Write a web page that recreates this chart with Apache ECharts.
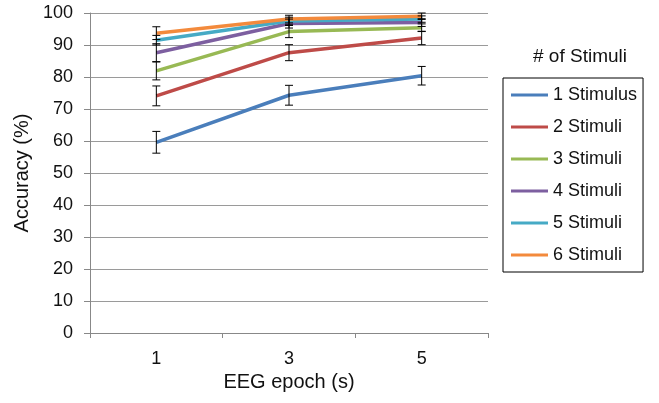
<!DOCTYPE html>
<html>
<head>
<meta charset="utf-8">
<script src="https://cdn.jsdelivr.net/npm/echarts@6/dist/echarts.min.js"></script>
<style>html,body{margin:0;padding:0;background:#fff}#c{width:659px;height:403px}</style>
</head>
<body>
<div id="c"></div>
<script>
var categories = ['1', '3', '5'];
var seriesNames = ['1 Stimulus', '2 Stimuli', '3 Stimuli', '4 Stimuli', '5 Stimuli', '6 Stimuli'];
var s1 = [59.6, 74.3, 80.4];
var s2 = [74.1, 87.6, 92.2];
var s3 = [81.9, 94.2, 95.4];
var s4 = [87.6, 96.7, 97.0];
var s5 = [91.5, 97.5, 98.1];
var s6 = [93.7, 98.1, 99.0];
var e1 = [3.4, 3.1, 2.9];
var e2 = [3.1, 2.5, 2.1];
var e3 = [2.8, 1.9, 1.2];
var e4 = [2.8, 1.4, 1.2];
var e5 = [1.5, 1.2, 1.0];
var e6 = [2.0, 1.2, 1.0];
var colors = ['#4A7EBB', '#BE4B48', '#98B954', '#7D5FA0', '#46AAC5', '#F38A3C'];
var yTicks = [0, 10, 20, 30, 40, 50, 60, 70, 80, 90, 100];

var means = [s1, s2, s3, s4, s5, s6];
var errs = [e1, e2, e3, e4, e5, e6];
var font = '"Liberation Sans", Arial, sans-serif';
var chart = echarts.init(document.getElementById('c'));

var series = [];
means.forEach(function (m, i) {
  series.push({
    name: seriesNames[i], type: 'line', data: m, symbol: 'none',
    lineStyle: { width: 3.5, color: colors[i] }, itemStyle: { color: colors[i] },
    z: 2 + i, animation: false
  });
});
var errData = [];
means.forEach(function (m, i) {
  m.forEach(function (v, j) { errData.push([j, v - errs[i][j], v + errs[i][j]]); });
});
series.push({
  type: 'custom', z: 20, animation: false, silent: true,
  data: errData,
  renderItem: function (params, api) {
    var x = api.value(0);
    var lo = api.coord([x, api.value(1)]);
    var hi = api.coord([x, api.value(2)]);
    var w = 4;
    var st = { stroke: '#000', lineWidth: 1 };
    return { type: 'group', children: [
      { type: 'line', shape: { x1: lo[0], y1: lo[1], x2: hi[0], y2: hi[1] }, style: st },
      { type: 'line', shape: { x1: lo[0] - w, y1: lo[1], x2: lo[0] + w, y2: lo[1] }, style: st },
      { type: 'line', shape: { x1: hi[0] - w, y1: hi[1], x2: hi[0] + w, y2: hi[1] }, style: st }
    ]};
  }
});

chart.setOption({
  animation: false,
  textStyle: { fontFamily: font },
  title: {
    text: '# of Stimuli', left: 580, top: 47, textAlign: 'center', padding: 0,
    textStyle: { fontFamily: font, fontSize: 19, fontWeight: 'normal', color: '#111' }
  },
  legend: {
    orient: 'vertical', left: 503, top: 78,
    data: seriesNames, icon: 'rect', itemWidth: 37, itemHeight: 3, itemGap: 14,
    borderColor: '#000', borderWidth: 1, padding: [8, 6, 8, 8],
    textStyle: { fontFamily: font, fontSize: 18, color: '#111', lineHeight: 18 }
  },
  grid: { left: 90, right: 171, top: 13, bottom: 70 },
  xAxis: {
    type: 'category', data: categories, boundaryGap: true,
    name: 'EEG epoch (s)', nameLocation: 'middle', nameGap: 38,
    nameTextStyle: { fontFamily: font, fontSize: 20, color: '#111' },
    axisLine: { lineStyle: { color: '#888', width: 1 } },
    axisTick: { show: true, length: 5, lineStyle: { color: '#888' } },
    axisLabel: { fontFamily: font, fontSize: 18, color: '#111', margin: 17 }
  },
  yAxis: {
    type: 'value', min: yTicks[0], max: yTicks[yTicks.length - 1], interval: 10,
    name: 'Accuracy (%)', nameLocation: 'middle', nameGap: 54,
    nameTextStyle: { fontFamily: font, fontSize: 20, color: '#111' },
    axisLine: { show: true, lineStyle: { color: '#888', width: 1 } },
    axisTick: { show: true, length: 6, lineStyle: { color: '#888' } },
    axisLabel: { fontFamily: font, fontSize: 18, color: '#111', margin: 17 },
    splitLine: { lineStyle: { color: '#9a9a9a', width: 1 } }
  },
  series: series
});
</script>
</body>
</html>
